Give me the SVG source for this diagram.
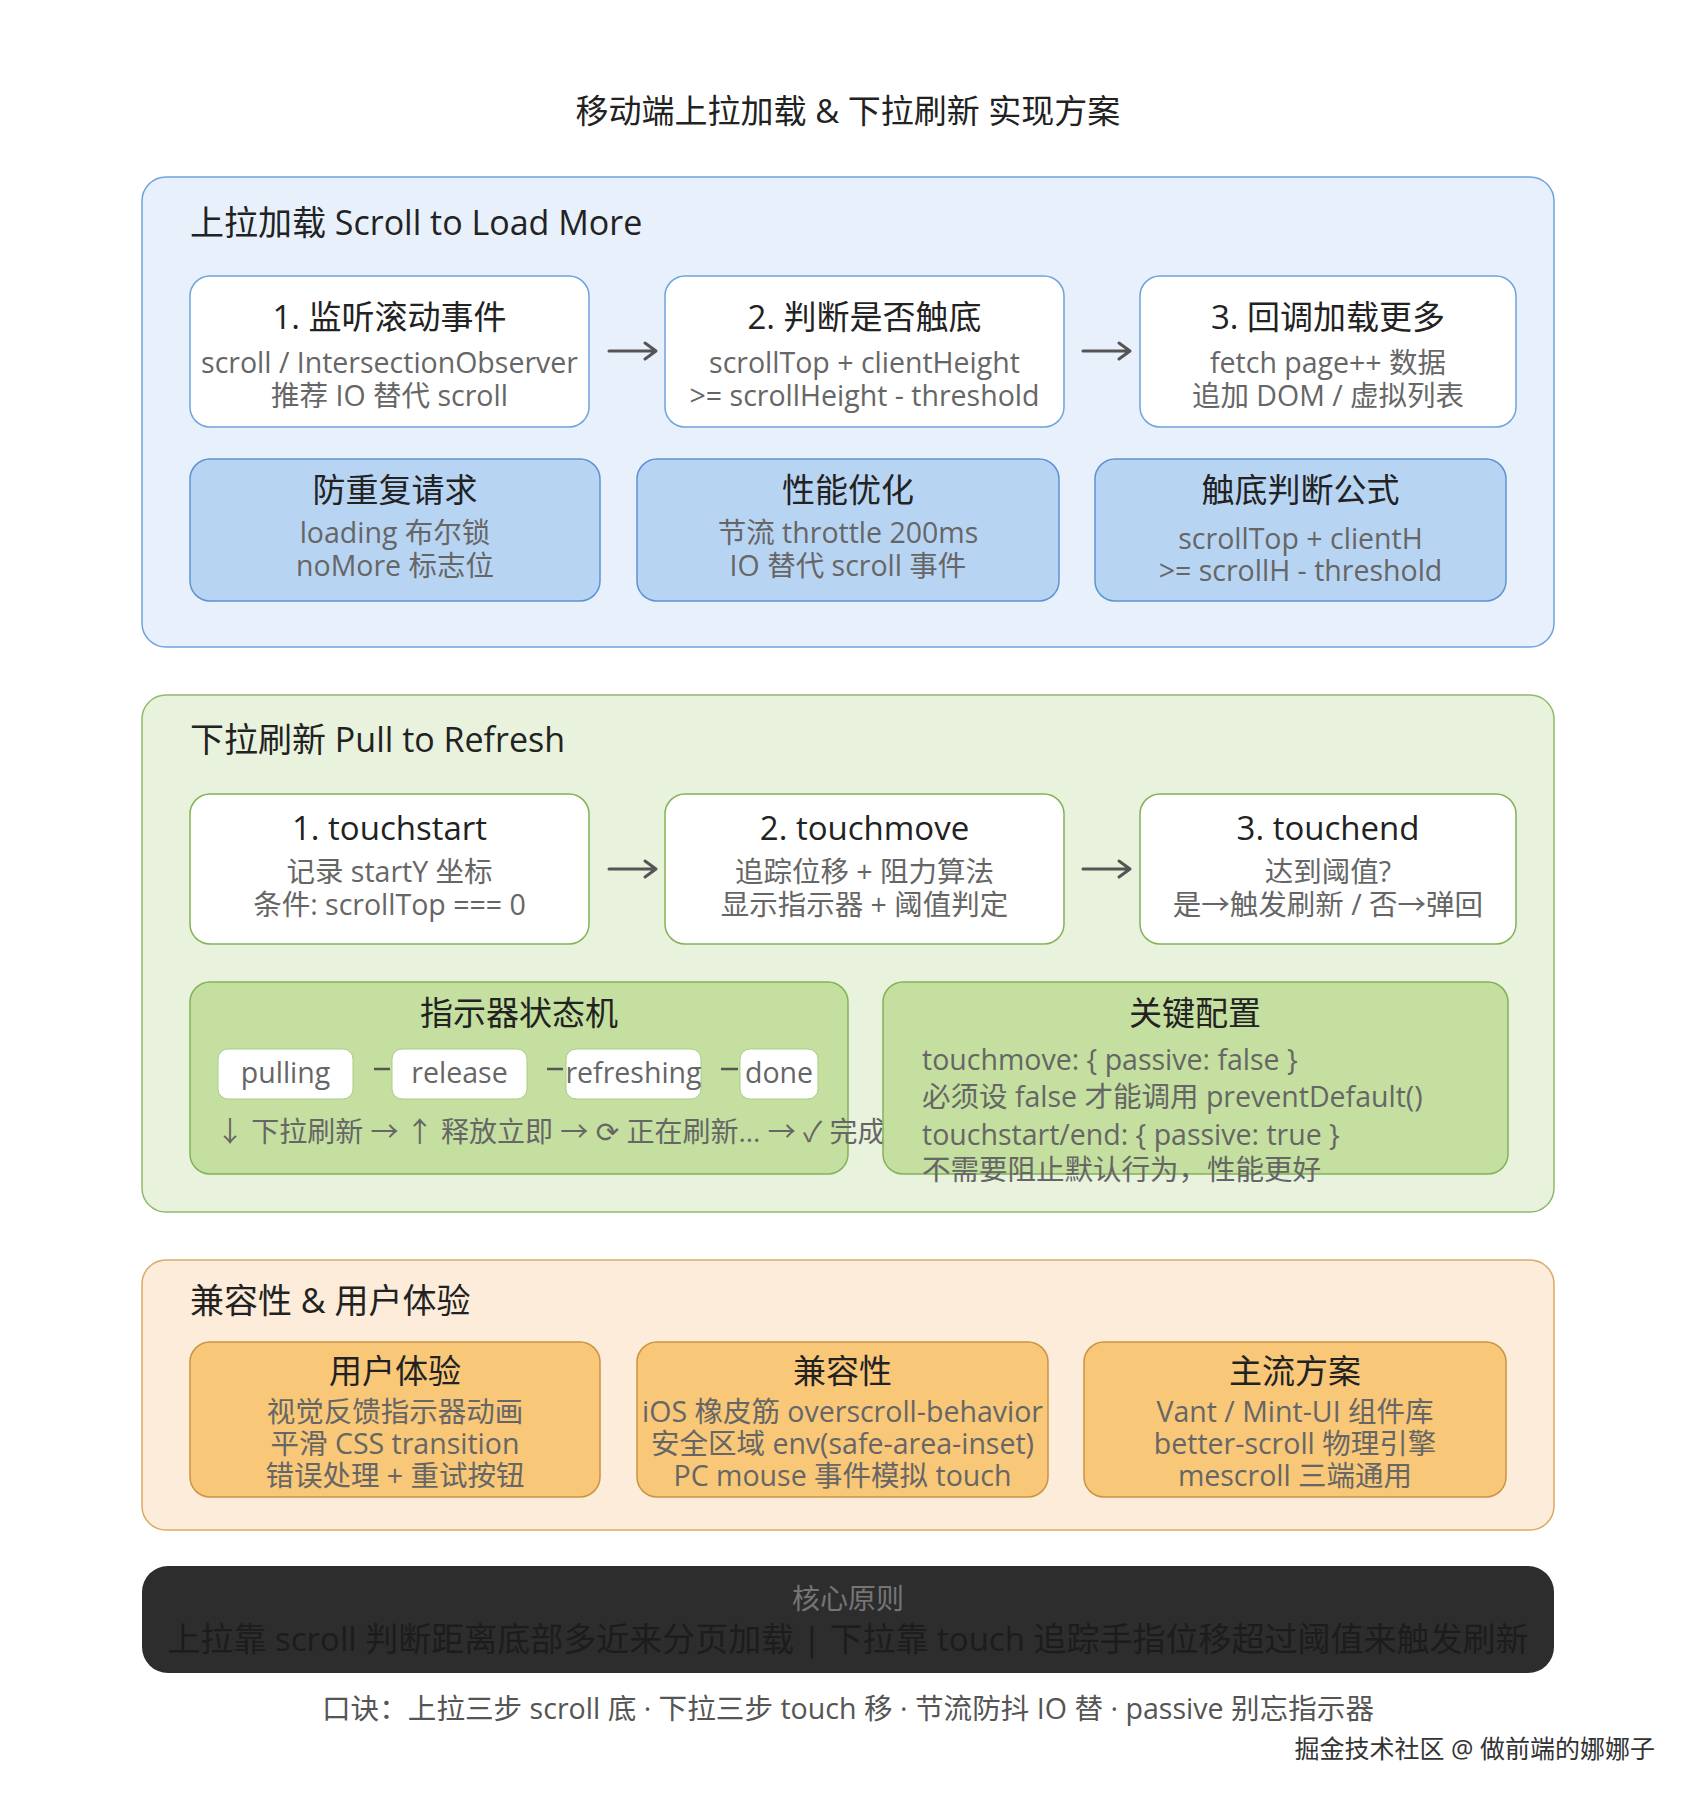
<svg xmlns="http://www.w3.org/2000/svg" width="1696" height="1806" viewBox="0 0 1696 1806">
<style>
text { font-family: 'Open Sans', 'Noto Sans CJK SC', 'DejaVu Sans', sans-serif; }
.ttl { font-size: 33px; fill: #222; text-anchor: middle; }
.sec { font-size: 34px; fill: #222; }
.h { font-size: 33px; fill: #222; text-anchor: middle; }
.s { font-size: 28.5px; fill: #666; text-anchor: middle; }
.sl { font-size: 28.5px; fill: #666; }
.blueSec { fill: #e7f0fb; stroke: #6fa3dc; stroke-width: 1.5; }
.stepB { fill: #ffffff; stroke: #6fa3dc; stroke-width: 1.5; }
.blueB { fill: #b8d4f3; stroke: #5d93d3; stroke-width: 1.5; }
.greenSec { fill: #e9f2dd; stroke: #8fbb6a; stroke-width: 1.5; }
.stepG { fill: #ffffff; stroke: #82b356; stroke-width: 1.5; }
.greenB { fill: #c4df9f; stroke: #82b356; stroke-width: 1.5; }
.pill { fill: #ffffff; stroke: #a9cf84; stroke-width: 1; }
.orSec { fill: #fcecd9; stroke: #dba865; stroke-width: 1.5; }
.orB { fill: #f8c778; stroke: #c99544; stroke-width: 1.5; }
.arrow { fill: none; stroke: #555; stroke-width: 3; stroke-linecap: round; stroke-linejoin: round; }
.dash { fill: none; stroke: #555; stroke-width: 2.5; }
</style>

<text class="ttl" x="848" y="123">移动端上拉加载 &amp; 下拉刷新 实现方案</text>

<!-- Section 1 -->
<g id="sec-load">
  <rect class="blueSec" x="142" y="177" width="1412" height="470" rx="24"/>
  <text class="sec" x="190" y="235">上拉加载 Scroll to Load More</text>
</g>
<g id="load-step1">
  <rect class="stepB" x="190" y="276" width="399" height="151" rx="20"/>
  <text class="h" x="389.5" y="329">1. 监听滚动事件</text>
  <text class="s" x="389.5" y="373">scroll / IntersectionObserver</text>
  <text class="s" x="389.5" y="406">推荐 IO 替代 scroll</text>
</g>
<g id="load-step2">
  <rect class="stepB" x="665" y="276" width="399" height="151" rx="20"/>
  <text class="h" x="864.5" y="329">2. 判断是否触底</text>
  <text class="s" x="864.5" y="373">scrollTop + clientHeight</text>
  <text class="s" x="864.5" y="406">&gt;= scrollHeight - threshold</text>
</g>
<g id="load-step3">
  <rect class="stepB" x="1140" y="276" width="376" height="151" rx="20"/>
  <text class="h" x="1328" y="329">3. 回调加载更多</text>
  <text class="s" x="1328" y="373">fetch page++ 数据</text>
  <text class="s" x="1328" y="406">追加 DOM / 虚拟列表</text>
</g>
<g id="load-dedupe">
  <rect class="blueB" x="190" y="459" width="410" height="142" rx="20"/>
  <text class="h" x="395" y="502">防重复请求</text>
  <text class="s" x="395" y="543">loading 布尔锁</text>
  <text class="s" x="395" y="576">noMore 标志位</text>
</g>
<g id="load-perf">
  <rect class="blueB" x="637" y="459" width="422" height="142" rx="20"/>
  <text class="h" x="848" y="502">性能优化</text>
  <text class="s" x="848" y="543">节流 throttle 200ms</text>
  <text class="s" x="848" y="576">IO 替代 scroll 事件</text>
</g>
<g id="load-formula">
  <rect class="blueB" x="1095" y="459" width="411" height="142" rx="20"/>
  <text class="h" x="1300.5" y="502">触底判断公式</text>
  <text class="s" x="1300.5" y="549">scrollTop + clientH</text>
  <text class="s" x="1300.5" y="581">&gt;= scrollH - threshold</text>
</g>

<!-- Section 2 -->
<g id="sec-refresh">
  <rect class="greenSec" x="142" y="695" width="1412" height="517" rx="24"/>
  <text class="sec" x="190" y="752">下拉刷新 Pull to Refresh</text>
</g>
<g id="ref-step1">
  <rect class="stepG" x="190" y="794" width="399" height="150" rx="20"/>
  <text class="h" x="389.5" y="840">1. touchstart</text>
  <text class="s" x="389.5" y="882">记录 startY 坐标</text>
  <text class="s" x="389.5" y="915">条件: scrollTop === 0</text>
</g>
<g id="ref-step2">
  <rect class="stepG" x="665" y="794" width="399" height="150" rx="20"/>
  <text class="h" x="864.5" y="840">2. touchmove</text>
  <text class="s" x="864.5" y="882">追踪位移 + 阻力算法</text>
  <text class="s" x="864.5" y="915">显示指示器 + 阈值判定</text>
</g>
<g id="ref-step3">
  <rect class="stepG" x="1140" y="794" width="376" height="150" rx="20"/>
  <text class="h" x="1328" y="840">3. touchend</text>
  <text class="s" x="1328" y="882">达到阈值?</text>
  <text class="s" x="1328" y="915">是→触发刷新 / 否→弹回</text>
</g>
<g id="ref-state">
  <rect class="greenB" x="190" y="982" width="658" height="192" rx="20"/>
  <text class="h" x="519" y="1025">指示器状态机</text>
  <rect class="pill" x="218" y="1049" width="135" height="50" rx="10"/>
  <text class="s" x="285.5" y="1083">pulling</text>
  <rect class="pill" x="392" y="1049" width="135" height="50" rx="10"/>
  <text class="s" x="459.5" y="1083">release</text>
  <rect class="pill" x="566" y="1049" width="135" height="50" rx="10"/>
  <text class="s" x="633.5" y="1083">refreshing</text>
  <rect class="pill" x="740" y="1049" width="78" height="50" rx="10"/>
  <text class="s" x="779" y="1083">done</text>
  <text x="216" y="1142" font-size="28" fill="#666">↓ 下拉刷新 → ↑ 释放立即 → ⟳ 正在刷新... → ✓ 完成</text>
</g>
<g id="ref-config">
  <rect class="greenB" x="883" y="982" width="625" height="192" rx="20"/>
  <text class="h" x="1195" y="1025">关键配置</text>
  <text class="sl" x="922" y="1070">touchmove: { passive: false }</text>
  <text class="sl" x="922" y="1107">必须设 false 才能调用 preventDefault()</text>
  <text class="sl" x="922" y="1145">touchstart/end: { passive: true }</text>
  <text class="sl" x="922" y="1180">不需要阻止默认行为，性能更好</text>
</g>

<!-- Section 3 -->
<g id="sec-compat">
  <rect class="orSec" x="142" y="1260" width="1412" height="270" rx="24"/>
  <text class="sec" x="190" y="1313">兼容性 &amp; 用户体验</text>
</g>
<g id="ux">
  <rect class="orB" x="190" y="1342" width="410" height="155" rx="20"/>
  <text class="h" x="395" y="1383">用户体验</text>
  <text class="s" x="395" y="1422">视觉反馈指示器动画</text>
  <text class="s" x="395" y="1454">平滑 CSS transition</text>
  <text class="s" x="395" y="1486">错误处理 + 重试按钮</text>
</g>
<g id="compat">
  <rect class="orB" x="637" y="1342" width="411" height="155" rx="20"/>
  <text class="h" x="842.5" y="1383">兼容性</text>
  <text class="s" x="842.5" y="1422">iOS 橡皮筋 overscroll-behavior</text>
  <text class="s" x="842.5" y="1454">安全区域 env(safe-area-inset)</text>
  <text class="s" x="842.5" y="1486">PC mouse 事件模拟 touch</text>
</g>
<g id="solutions">
  <rect class="orB" x="1084" y="1342" width="422" height="155" rx="20"/>
  <text class="h" x="1295" y="1383">主流方案</text>
  <text class="s" x="1295" y="1422">Vant / Mint-UI 组件库</text>
  <text class="s" x="1295" y="1454">better-scroll 物理引擎</text>
  <text class="s" x="1295" y="1486">mescroll 三端通用</text>
</g>

<!-- Core principle -->
<g id="core">
  <rect x="142" y="1566" width="1412" height="107" rx="26" fill="#2d2d2d"/>
  <text x="848" y="1609" font-size="28" fill="#757575" text-anchor="middle">核心原则</text>
  <text x="848" y="1651" font-size="33" fill="#1c1c1c" text-anchor="middle">上拉靠 scroll 判断距离底部多近来分页加载 | 下拉靠 touch 追踪手指位移超过阈值来触发刷新</text>
</g>

<g id="footer">
  <text x="848" y="1719" font-size="28.6" fill="#555" text-anchor="middle">口诀：上拉三步 scroll 底 · 下拉三步 touch 移 · 节流防抖 IO 替 · passive 别忘指示器</text>
  <text x="1655" y="1758" font-size="25" fill="#333" stroke="#fff" stroke-width="3" paint-order="stroke" text-anchor="end">掘金技术社区 @ 做前端的娜娜子</text>
</g>

<g id="connectors">
  <path class="arrow" d="M609,351 H655 M645,343 L656,351 L645,359"/>
  <path class="arrow" d="M1083,351 H1129 M1119,343 L1130,351 L1119,359"/>
  <path class="arrow" d="M609,869 H655 M645,861 L656,869 L645,877"/>
  <path class="arrow" d="M1083,869 H1129 M1119,861 L1130,869 L1119,877"/>
  <path class="dash" d="M374,1069 H390"/>
  <path class="dash" d="M547,1069 H563"/>
  <path class="dash" d="M721,1069 H738"/>
</g>
</svg>
